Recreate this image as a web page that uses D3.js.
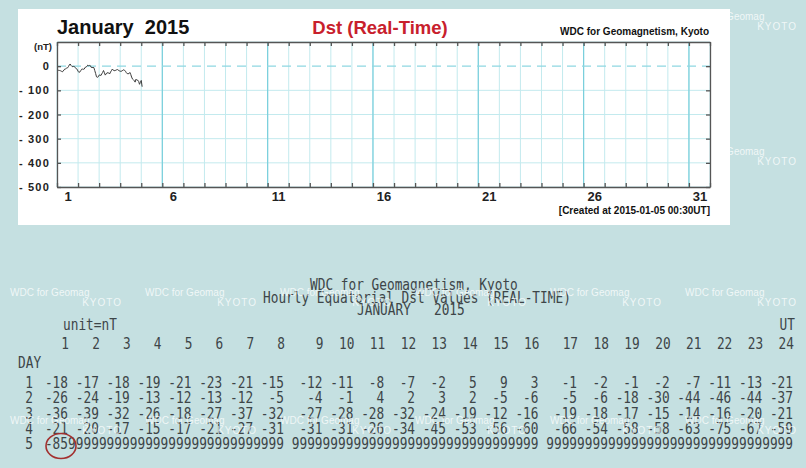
<!DOCTYPE html>
<html lang="en">
<head>
<meta charset="utf-8">
<title>Dst (Real-Time) - January 2015</title>
<style>
  body { margin: 0; background: #c5e0e1; }
  svg { display: block; }
  .pf { font-family: "Liberation Sans", Arial, sans-serif; font-weight: bold; }
  .mono { font-family: "DejaVu Sans Mono", monospace; font-size: 16px; fill: #3d4548; }
  .wm { font-family: "Liberation Sans", Arial, sans-serif; font-size: 10px; fill: #ffffff; fill-opacity: 0.75; }
</style>
<script src="https://cdn.jsdelivr.net/npm/d3@7"></script>
</head>
<body>
<div id="chart"></div>
<script>
// hourly Dst values (nT), one array per day, 9999 = not yet available
var hours = [1, 2, 3, 4, 5, 6, 7, 8, 9, 10, 11, 12, 13, 14, 15, 16, 17, 18, 19, 20, 21, 22, 23, 24];
var days = [1, 2, 3, 4, 5];
var dstDay1 = [-18, -17, -18, -19, -21, -23, -21, -15, -12, -11, -8, -7, -2, 5, 9, 3, -1, -2, -1, -2, -7, -11, -13, -21];
var dstDay2 = [-26, -24, -19, -13, -12, -13, -12, -5, -4, -1, 4, 2, 3, 2, -5, -6, -5, -6, -18, -30, -44, -46, -44, -37];
var dstDay3 = [-36, -39, -32, -26, -18, -27, -37, -32, -27, -28, -28, -32, -24, -19, -12, -16, -19, -18, -17, -15, -14, -16, -20, -21];
var dstDay4 = [-21, -20, -17, -15, -17, -21, -27, -31, -31, -31, -26, -34, -45, -53, -56, -60, -66, -54, -58, -58, -63, -75, -67, -59];
var dstDay5 = [-85, 9999, 9999, 9999, 9999, 9999, 9999, 9999, 9999, 9999, 9999, 9999, 9999, 9999, 9999, 9999, 9999, 9999, 9999, 9999, 9999, 9999, 9999, 9999];
var missing = 9999;

// axis ticks of the plot
var yTicks = [100, 0, -100, -200, -300, -400, -500];
var yLabels = [0, -100, -200, -300, -400, -500];
var dayLabels = [1, 6, 11, 16, 21, 26, 31];
var dayBounds = [1, 2, 3, 4, 5, 6, 7, 8, 9, 10, 11, 12, 13, 14, 15, 16, 17, 18, 19, 20, 21, 22, 23, 24, 25, 26, 27, 28, 29, 30, 31, 32];
var majorDays = [6, 11, 16, 21, 26, 31];

var table = [dstDay1, dstDay2, dstDay3, dstDay4, dstDay5];

var W = 806, H = 468;
var svg = d3.select("#chart").append("svg")
    .attr("width", W)
    .attr("height", H);

svg.append("rect")
    .attr("width", W).attr("height", H)
    .attr("fill", "#c5e0e1");

// ---------- text table ----------
var sx = 0.8;   // condensed mono look
function mono(str, x, y, anchor) {
    return svg.append("text")
        .attr("class", "mono")
        .attr("transform", "translate(" + x + "," + y + ") scale(" + sx + ",1)")
        .attr("text-anchor", anchor || "start")
        .attr("xml:space", "preserve")
        .text(str);
}

// character columns -> pixels
var charX = d3.scaleLinear().domain([0, 94]).range([68, 793]);
function colIndex(h) { return 4 * (h - 1) + Math.floor((h - 1) / 8); }

mono("WDC for Geomagnetism, Kyoto", 310, 290);
mono("Hourly Equatorial Dst Values (REAL-TIME)", 263, 303);
mono("JANUARY   2015", 357, 315);
mono("unit=nT", 63, 330);
mono("UT", 795, 330, "end");
mono("DAY", 18, 368);

hours.forEach(function(h) {
    mono(String(h), charX(colIndex(h)) + 1, 349, "end");
});

var rowY = d3.scaleLinear().domain([1, 5]).range([388, 449]);
days.forEach(function(d, i) {
    mono(String(d), 33, rowY(d), "end");
    table[i].forEach(function(v, j) {
        mono(String(v), charX(colIndex(hours[j])), rowY(d), "end");
    });
});

// red circle around the latest value
svg.append("ellipse")
    .attr("cx", charX(colIndex(1)) - 7)
    .attr("cy", rowY(5) - 3)
    .attr("rx", 15).attr("ry", 12.5)
    .attr("fill", "none")
    .attr("stroke", "#a3302f")
    .attr("stroke-width", 1.6);

// ---------- watermarks ----------
// rows behind the white panel only show their right-most tile
var wmRows = [20, 155, 296, 424];
var wmCols = [10, 145, 280, 415, 550, 685];
wmRows.forEach(function(ry) {
    var cols = ry < 225 ? [685] : wmCols;
    cols.forEach(function(cx) {
        svg.append("text").attr("class", "wm")
            .attr("x", cx).attr("y", ry).text("WDC for Geomag");
        svg.append("text").attr("class", "wm")
            .attr("x", cx + 112).attr("y", ry + 10)
            .attr("text-anchor", "end")
            .attr("letter-spacing", "1px")
            .text("KYOTO");
    });
});

// ---------- plot panel ----------
svg.append("rect")
    .attr("x", 18).attr("y", 9)
    .attr("width", 712).attr("height", 216)
    .attr("fill", "#ffffff");

var x = d3.scaleLinear().domain([1, 32]).range([57, 710]);
var y = d3.scaleLinear().domain([-500, 100]).range([187, 42]);

var plot = svg.append("g");

// minor day grid
plot.selectAll(".vminor")
    .data(dayBounds)
    .enter().append("line")
    .attr("x1", function(d) { return x(d); })
    .attr("x2", function(d) { return x(d); })
    .attr("y1", y(100)).attr("y2", y(-500))
    .attr("stroke", "#c3eaee")
    .attr("stroke-width", 1);

plot.selectAll(".hgrid")
    .data(yTicks.filter(function(d) { return d !== 0; }))
    .enter().append("line")
    .attr("x1", x(1)).attr("x2", x(32))
    .attr("y1", function(d) { return y(d); })
    .attr("y2", function(d) { return y(d); })
    .attr("stroke", "#c3eaee")
    .attr("stroke-width", 1);

plot.selectAll(".vmajor")
    .data(majorDays)
    .enter().append("line")
    .attr("x1", function(d) { return x(d); })
    .attr("x2", function(d) { return x(d); })
    .attr("y1", y(100)).attr("y2", y(-500))
    .attr("stroke", "#79cfdc")
    .attr("stroke-width", 1.2);

// zero line, dashed
plot.append("line")
    .attr("x1", x(1)).attr("x2", x(32))
    .attr("y1", y(0)).attr("y2", y(0))
    .attr("stroke", "#8fd8e2")
    .attr("stroke-width", 1.3)
    .attr("stroke-dasharray", "9,6");

// Dst line, each hourly value at the end of its hour
var points = [];
days.forEach(function(d, i) {
    table[i].forEach(function(v, j) {
        if (v !== missing) points.push({ day: d, hour: hours[j], value: v });
    });
});

var valueline = d3.line()
    .x(function(d) { return x(d.day + d.hour / 24); })
    .y(function(d) { return y(d.value); });

plot.append("path")
    .datum(points)
    .attr("d", valueline)
    .attr("fill", "none")
    .attr("stroke", "#3a3a3a")
    .attr("stroke-width", 1);

// frame with inward ticks
plot.append("g")
    .attr("transform", "translate(0," + y(-500) + ")")
    .call(d3.axisBottom(x).tickValues(dayBounds).tickSize(-4).tickSizeOuter(0).tickFormat(""))
    .call(function(g) { g.selectAll("line, path").attr("stroke", "#555").attr("stroke-width", 1.3); });

plot.append("g")
    .attr("transform", "translate(0," + y(100) + ")")
    .call(d3.axisTop(x).tickValues(dayBounds).tickSize(-4).tickSizeOuter(0).tickFormat(""))
    .call(function(g) { g.selectAll("line, path").attr("stroke", "#555").attr("stroke-width", 1.3); });

plot.append("g")
    .attr("class", "pf")
    .attr("transform", "translate(" + x(1) + ",0)")
    .call(d3.axisLeft(y).tickValues(yLabels).tickSize(-4).tickSizeOuter(0).tickPadding(7)
        .tickFormat(function(d) { return d === 0 ? "0" : "- " + Math.abs(d); }))
    .call(function(g) {
        g.selectAll("line, path").attr("stroke", "#555").attr("stroke-width", 1.3);
        g.selectAll("text").attr("fill", "#222").style("font-size", "11px").attr("letter-spacing", "1.2px");
    });

plot.append("g")
    .attr("transform", "translate(" + x(32) + ",0)")
    .call(d3.axisRight(y).tickValues(yLabels).tickSize(-4).tickSizeOuter(0).tickFormat(""))
    .call(function(g) { g.selectAll("line, path").attr("stroke", "#555").attr("stroke-width", 1.3); });

// day labels under the axis, centred on the day
plot.append("g")
    .attr("class", "pf")
    .attr("transform", "translate(0," + y(-500) + ")")
    .call(d3.axisBottom(x).tickValues(dayLabels.map(function(d) { return d + 0.5; }))
        .tickSize(0).tickPadding(5).tickFormat(function(d) { return Math.floor(d); }))
    .call(function(g) {
        g.select(".domain").remove();
        g.selectAll("text").attr("fill", "#222").style("font-size", "13px");
    });

// titles
svg.append("text").attr("class", "pf")
    .attr("x", 57).attr("y", 34)
    .attr("xml:space", "preserve")
    .style("font-size", "20px").attr("fill", "#111")
    .text("January  2015");

svg.append("text").attr("class", "pf")
    .attr("x", 380).attr("y", 34)
    .attr("text-anchor", "middle")
    .style("font-size", "18.5px").attr("fill", "#c8202c")
    .text("Dst (Real-Time)");

svg.append("text").attr("class", "pf")
    .attr("x", 709).attr("y", 35)
    .attr("text-anchor", "end")
    .style("font-size", "10px").attr("fill", "#111")
    .text("WDC for Geomagnetism, Kyoto");

svg.append("text").attr("class", "pf")
    .attr("x", 52).attr("y", 50)
    .attr("text-anchor", "end")
    .style("font-size", "9.5px").attr("fill", "#222")
    .text("(nT)");

svg.append("text").attr("class", "pf")
    .attr("x", 710).attr("y", 214)
    .attr("text-anchor", "end")
    .style("font-size", "10px").attr("fill", "#111")
    .text("[Created at 2015-01-05 00:30UT]");
</script>
</body>
</html>
